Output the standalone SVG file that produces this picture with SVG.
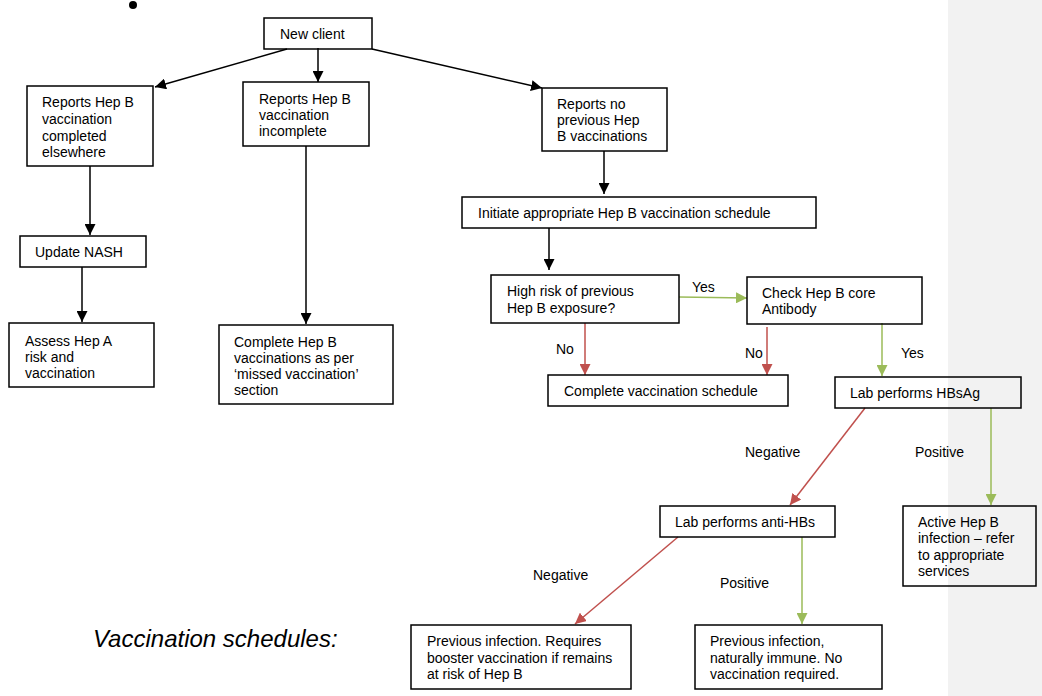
<svg xmlns="http://www.w3.org/2000/svg" width="1042" height="696" viewBox="0 0 1042 696">
<style>
.box{fill:none;stroke:#000;stroke-width:1.5}
.t{font-family:"Liberation Sans",Arial,sans-serif;font-size:14px;fill:#000}
.k{stroke:#000;stroke-width:1.5;fill:none}
.r{stroke:#c0504d;stroke-width:1.5;fill:none}
.g{stroke:#9bbb59;stroke-width:1.5;fill:none}
</style>
<defs>
<marker id="ak" viewBox="0 0 10 10" refX="10" refY="5" markerWidth="11" markerHeight="11" markerUnits="userSpaceOnUse" orient="auto"><path d="M0,0L10,5L0,10z" fill="#000"/></marker>
<marker id="ar" viewBox="0 0 10 10" refX="10" refY="5" markerWidth="11" markerHeight="11" markerUnits="userSpaceOnUse" orient="auto"><path d="M0,0L10,5L0,10z" fill="#c0504d"/></marker>
<marker id="ag" viewBox="0 0 10 10" refX="10" refY="5" markerWidth="11" markerHeight="11" markerUnits="userSpaceOnUse" orient="auto"><path d="M0,0L10,5L0,10z" fill="#9bbb59"/></marker>
</defs>
<rect x="948" y="0" width="94" height="696" fill="#f2f2f2"/>
<circle cx="133" cy="5" r="4" fill="#000"/>
<text x="93" y="647" font-family="'Liberation Sans',Arial,sans-serif" font-size="24" font-style="italic">Vaccination schedules:</text>

<g id="connectors">
<line class="k" x1="287" y1="49" x2="155" y2="87" marker-end="url(#ak)"/>
<line class="k" x1="318" y1="48" x2="318" y2="82" marker-end="url(#ak)"/>
<line class="k" x1="372" y1="49" x2="542" y2="88" marker-end="url(#ak)"/>
<line class="k" x1="90" y1="166" x2="90" y2="235" marker-end="url(#ak)"/>
<line class="k" x1="82" y1="267" x2="82" y2="322" marker-end="url(#ak)"/>
<line class="k" x1="306" y1="146" x2="306" y2="324" marker-end="url(#ak)"/>
<line class="k" x1="604" y1="151" x2="604" y2="194" marker-end="url(#ak)"/>
<line class="k" x1="549" y1="228" x2="549" y2="270" marker-end="url(#ak)"/>
<line class="g" x1="679" y1="297" x2="747" y2="298" marker-end="url(#ag)"/>
<text class="t" x="692" y="292">Yes</text>
<line class="r" x1="585" y1="323" x2="585" y2="375" marker-end="url(#ar)"/>
<text class="t" x="556" y="354">No</text>
<line class="r" x1="767" y1="327" x2="767" y2="375" marker-end="url(#ar)"/>
<text class="t" x="745" y="358">No</text>
<line class="g" x1="882" y1="323" x2="882" y2="376" marker-end="url(#ag)"/>
<text class="t" x="901" y="358">Yes</text>
<line class="r" x1="865" y1="408" x2="790" y2="505" marker-end="url(#ar)"/>
<text class="t" x="745" y="457">Negative</text>
<line class="g" x1="991" y1="408" x2="991" y2="505" marker-end="url(#ag)"/>
<text class="t" x="915" y="457">Positive</text>
<line class="r" x1="678" y1="537" x2="575" y2="624" marker-end="url(#ar)"/>
<text class="t" x="533" y="580">Negative</text>
<line class="g" x1="802" y1="537" x2="802" y2="624" marker-end="url(#ag)"/>
<text class="t" x="720" y="588">Positive</text>
</g>

<g id="new-client"><rect class="box" x="264" y="18" width="108" height="31"/><text class="t" x="280" y="39">New client</text></g>
<g id="completed-elsewhere"><rect class="box" x="27" y="86" width="126" height="80"/><text class="t" x="42" y="107">Reports Hep B</text><text class="t" x="42" y="124">vaccination</text><text class="t" x="42" y="141">completed</text><text class="t" x="42" y="157">elsewhere</text></g>
<g id="incomplete"><rect class="box" x="243" y="82" width="126" height="64"/><text class="t" x="259" y="104">Reports Hep B</text><text class="t" x="259" y="120">vaccination</text><text class="t" x="259" y="136">incomplete</text></g>
<g id="no-previous"><rect class="box" x="542" y="88" width="125" height="63"/><text class="t" x="557" y="109">Reports no</text><text class="t" x="557" y="125">previous Hep</text><text class="t" x="557" y="141">B vaccinations</text></g>
<g id="update-nash"><rect class="box" x="20" y="236" width="126" height="31"/><text class="t" x="35" y="257">Update NASH</text></g>
<g id="assess-hep-a"><rect class="box" x="9" y="323" width="145" height="64"/><text class="t" x="25" y="346">Assess Hep A</text><text class="t" x="25" y="362">risk and</text><text class="t" x="25" y="378">vaccination</text></g>
<g id="complete-missed"><rect class="box" x="219" y="325" width="174" height="79"/><text class="t" x="234" y="347">Complete Hep B</text><text class="t" x="234" y="363">vaccinations as per</text><text class="t" x="234" y="379">‘missed vaccination’</text><text class="t" x="234" y="395">section</text></g>
<g id="initiate"><rect class="box" x="462" y="197" width="354" height="31"/><text class="t" x="478" y="218">Initiate appropriate Hep B vaccination schedule</text></g>
<g id="high-risk"><rect class="box" x="491" y="275" width="188" height="48"/><text class="t" x="507" y="296">High risk of previous</text><text class="t" x="507" y="313">Hep B exposure?</text></g>
<g id="check-core"><rect class="box" x="747" y="277" width="175" height="47"/><text class="t" x="762" y="298">Check Hep B core</text><text class="t" x="762" y="314">Antibody</text></g>
<g id="complete-schedule"><rect class="box" x="548" y="375" width="240" height="31"/><text class="t" x="564" y="396">Complete vaccination schedule</text></g>
<g id="hbsag"><rect class="box" x="835" y="377" width="186" height="31"/><text class="t" x="850" y="398">Lab performs HBsAg</text></g>
<g id="anti-hbs"><rect class="box" x="660" y="506" width="175" height="31"/><text class="t" x="675" y="527">Lab performs anti-HBs</text></g>
<g id="active-hep-b"><rect class="box" x="903" y="506" width="133" height="80"/><text class="t" x="918" y="527">Active Hep B</text><text class="t" x="918" y="543">infection – refer</text><text class="t" x="918" y="560">to appropriate</text><text class="t" x="918" y="576">services</text></g>
<g id="booster"><rect class="box" x="411" y="625" width="220" height="64"/><text class="t" x="427" y="646">Previous infection. Requires</text><text class="t" x="427" y="663">booster vaccination if remains</text><text class="t" x="427" y="679">at risk of Hep B</text></g>
<g id="immune"><rect class="box" x="695" y="625" width="187" height="64"/><text class="t" x="710" y="646">Previous infection,</text><text class="t" x="710" y="663">naturally immune. No</text><text class="t" x="710" y="679">vaccination required.</text></g>
</svg>
